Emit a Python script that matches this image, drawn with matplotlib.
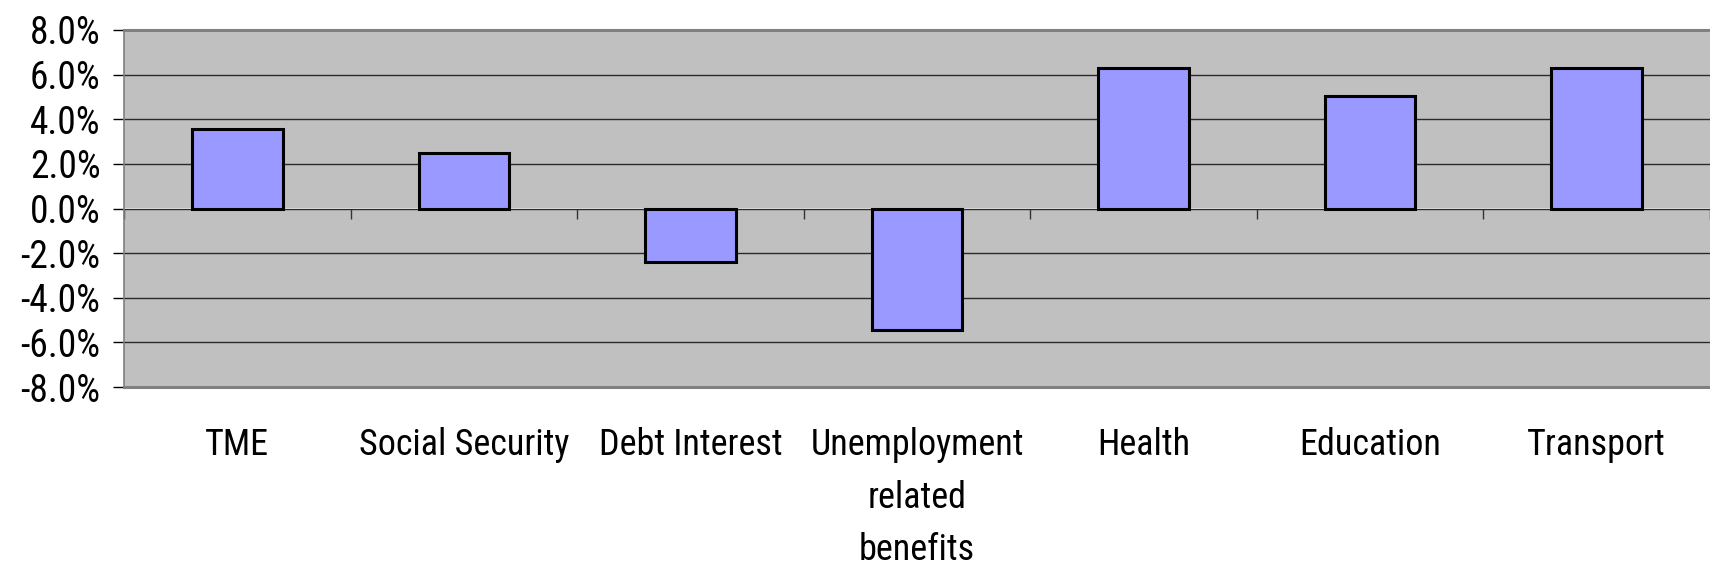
import matplotlib
matplotlib.use("Agg")
import matplotlib.pyplot as plt
import numpy as np

categories = ["TME", "Social Security", "Debt Interest",
              "Unemployment\nrelated\nbenefits", "Health", "Education", "Transport"]
values = [3.55, 2.5, -2.4, -5.45, 6.3, 5.05, 6.3]
yticks = [-8, -6, -4, -2, 0, 2, 4, 6, 8]

plt.rcParams['font.family'] = ['Roboto Condensed', 'Liberation Sans', 'DejaVu Sans']

fig = plt.figure(figsize=(17.1, 5.7), dpi=100)
ax = fig.add_axes([124/1710, 1-387/570, 1-124/1710, (387-30)/570])
ax.set_facecolor('#C0C0C0')

x = np.arange(len(categories))
ax.bar(x, values, width=0.4, color='#9999FF', edgecolor='black', linewidth=2.2, zorder=3)

ax.set_xlim(-0.5, len(categories) - 0.5)
ax.set_ylim(-8, 8)
ax.set_yticks(yticks)
ax.set_yticklabels([f"{v:.1f}%" for v in yticks], fontsize=27)
ax.yaxis.grid(True, color='#2a2a2a', linewidth=1.0, zorder=1)
ax.set_axisbelow(True)
ax.tick_params(axis='y', direction='out', length=8, width=1, color='black', pad=9)

ax.set_xticks(x)
ax.set_xticklabels(categories, fontsize=26, linespacing=1.58, va='top')
ax.tick_params(axis='x', length=0, pad=29)

for s in ['top', 'bottom']:
    ax.spines[s].set_color('#808080')
    ax.spines[s].set_linewidth(2.2)
ax.spines['left'].set_color('#808080')
ax.spines['left'].set_linewidth(1.2)
ax.spines['right'].set_visible(False)

# category-boundary ticks on the zero line
sec = ax.secondary_xaxis(0, transform=ax.transData)
sec.set_xticks(np.arange(len(categories) + 1) - 0.5)
sec.tick_params(axis='x', direction='out', length=7, width=1, color='#333333', labelbottom=False)
sec.spines['bottom'].set_visible(False)

fig.savefig("out.png", dpi=100, facecolor='white')
